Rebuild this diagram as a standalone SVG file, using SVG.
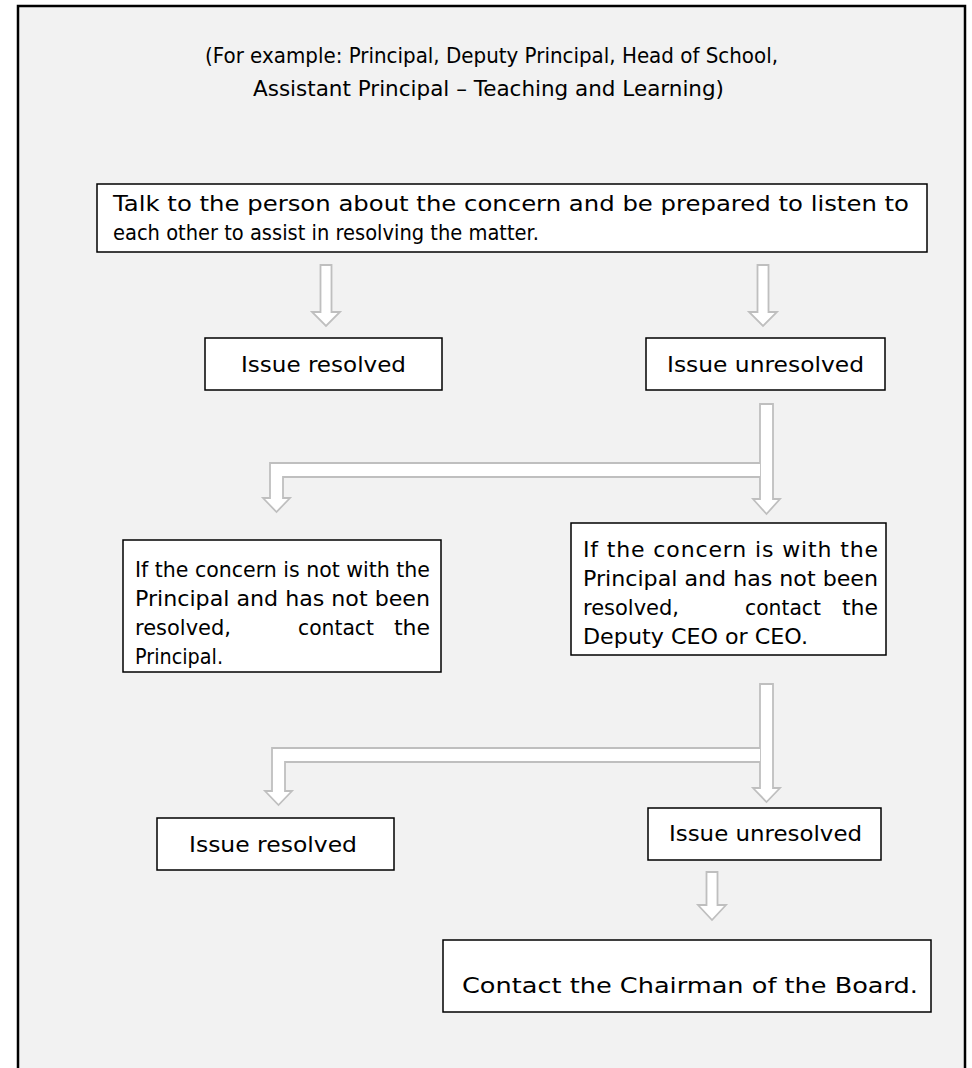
<svg xmlns="http://www.w3.org/2000/svg" width="972" height="1068" viewBox="0 0 972 1068">
<style>
.frame{fill:#f2f2f2;stroke:#000;stroke-width:2.5}
.box{fill:#fff;stroke:#000;stroke-width:1.5}
.t{font-family:"DejaVu Sans","Liberation Sans",sans-serif;font-size:22px;fill:#000}
.h{font-family:"DejaVu Sans","Liberation Sans",sans-serif;font-size:21px;fill:#000}
.e{text-anchor:end}
.ar{fill:#fff;stroke:#bfbfbf;stroke-width:1.8;stroke-linejoin:miter}
</style>
<rect class="frame" x="18" y="6" width="947" height="1080"/>
<g id="title">
<text class="h" x="205" y="63" textLength="573" lengthAdjust="spacingAndGlyphs">(For example:  Principal, Deputy Principal, Head of School,</text>
<text class="h" x="253" y="96" textLength="471" lengthAdjust="spacingAndGlyphs">Assistant Principal – Teaching and Learning)</text>
</g>
<g id="connectors">
<path class="ar" d="M320.5,265 H331.5 V312 H340 L326,326 L312,312 H320.5 Z"/>
<path class="ar" d="M757.5,265 H768.5 V312 H777 L763,326 L749,312 H757.5 Z"/>
<path class="ar" d="M760,404 H773 V499 H780 L766.5,514 L753,499 H760 Z"/>
<path class="ar" d="M760,463 H270 V498 H263 L276.5,512 L290,498 H283 V477 H760"/>
<path class="ar" d="M760,684 H773 V788 H780 L766.5,802 L753,788 H760 Z"/>
<path class="ar" d="M760,748 H272 V791 H265 L278.5,805 L292,791 H285 V762 H760"/>
<path class="ar" d="M706.5,872 H717.5 V905 H726 L712,920 L698,905 H706.5 Z"/>
</g>
<g id="n1">
<rect class="box" x="97" y="184" width="830" height="68"/>
<text class="t" x="113" y="211" textLength="796" lengthAdjust="spacingAndGlyphs">Talk to the person about the concern and be prepared to listen to</text>
<text class="t" x="113" y="240" textLength="426" lengthAdjust="spacingAndGlyphs">each other to assist in resolving the matter.</text>
</g>
<g id="n2">
<rect class="box" x="205" y="338" width="237" height="52"/>
<text class="t" x="241" y="372" textLength="165" lengthAdjust="spacingAndGlyphs">Issue resolved</text>
</g>
<g id="n3">
<rect class="box" x="646" y="338" width="239" height="52"/>
<text class="t" x="667" y="372" textLength="197" lengthAdjust="spacingAndGlyphs">Issue unresolved</text>
</g>
<g id="n4">
<rect class="box" x="123" y="540" width="318" height="132"/>
<text class="t" x="135" y="577" textLength="295" lengthAdjust="spacingAndGlyphs">If the concern is not with the</text>
<text class="t" x="135" y="606" textLength="295" lengthAdjust="spacingAndGlyphs">Principal and has not been</text>
<text class="t" x="135" y="635" textLength="96" lengthAdjust="spacingAndGlyphs">resolved,</text>
<text class="t" x="298" y="635" textLength="76" lengthAdjust="spacingAndGlyphs">contact</text>
<text class="t e" x="430" y="635">the</text>
<text class="t" x="135" y="664" textLength="88" lengthAdjust="spacingAndGlyphs">Principal.</text>
</g>
<g id="n5">
<rect class="box" x="571" y="523" width="315" height="132"/>
<text class="t" x="583" y="557" textLength="295" lengthAdjust="spacing">If the concern is with the</text>
<text class="t" x="583" y="586" textLength="295" lengthAdjust="spacingAndGlyphs">Principal and has not been</text>
<text class="t" x="583" y="615" textLength="96" lengthAdjust="spacingAndGlyphs">resolved,</text>
<text class="t" x="745" y="615" textLength="76" lengthAdjust="spacingAndGlyphs">contact</text>
<text class="t e" x="878" y="615">the</text>
<text class="t" x="583" y="644" textLength="225" lengthAdjust="spacingAndGlyphs">Deputy CEO or CEO.</text>
</g>
<g id="n6">
<rect class="box" x="157" y="818" width="237" height="52"/>
<text class="t" x="189" y="852" textLength="168" lengthAdjust="spacingAndGlyphs">Issue resolved</text>
</g>
<g id="n7">
<rect class="box" x="648" y="808" width="233" height="52"/>
<text class="t" x="669" y="841" textLength="193" lengthAdjust="spacingAndGlyphs">Issue unresolved</text>
</g>
<g id="n8">
<rect class="box" x="443" y="940" width="488" height="72"/>
<text class="t" x="462" y="993" textLength="456" lengthAdjust="spacingAndGlyphs">Contact the Chairman of the Board.</text>
</g>
</svg>
